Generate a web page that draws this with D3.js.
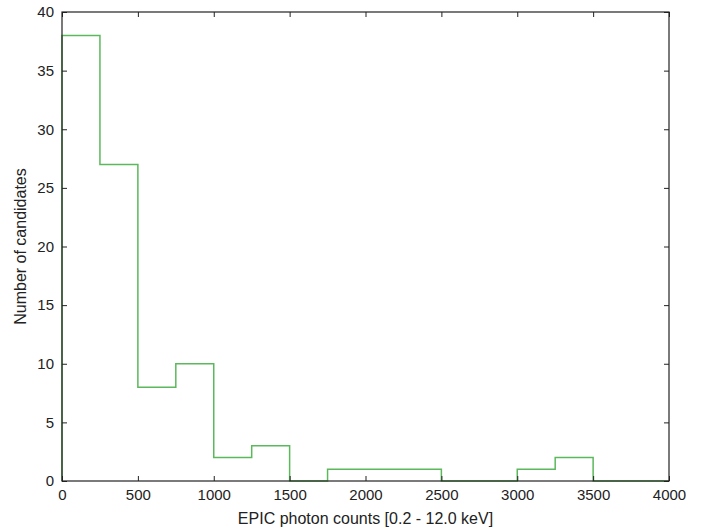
<!DOCTYPE html>
<html lang="en">
  <head>
    <meta charset="utf-8">
    <title></title>
    <style>
      body { margin: 0; background: #fff; }
      .chart text { font-family: "Liberation Sans", Arial, sans-serif; fill: #222; }
    </style>
  </head>
  <body>
    <svg class="chart"></svg>

    <script src="https://cdn.jsdelivr.net/npm/d3@7"></script>
    <script type="text/javascript">
      // histogram bins (250 counts wide) and heights
      var binEdges = [0, 250, 500, 750, 1000, 1250, 1500, 1750, 2000, 2250, 2500, 2750, 3000, 3250, 3500, 3750, 4000];
      var counts = [38, 27, 8, 10, 2, 3, 0, 1, 1, 1, 0, 0, 1, 2, 0, 0];
      var xTicks = [0, 500, 1000, 1500, 2000, 2500, 3000, 3500, 4000];
      var yTicks = [0, 5, 10, 15, 20, 25, 30, 35, 40];

      var margin = {top: 12, right: 39, bottom: 48, left: 62},
          width = 708 - margin.left - margin.right,
          height = 529 - margin.top - margin.bottom;

      var x = d3.scaleLinear().domain([0, 4000]).range([0, width]);
      var y = d3.scaleLinear().domain([0, 40]).range([height, 0]);

      var svg = d3.select(".chart")
          .attr("width", 708)
          .attr("height", 529);

      var chart = svg.append("g")
          .attr("transform", "translate(" + margin.left + "," + margin.top + ")");

      // step outline of the histogram
      var pts = [[binEdges[0], 0]];
      counts.forEach(function(c, i) {
        pts.push([binEdges[i], c]);
        pts.push([binEdges[i + 1], c]);
      });
      pts.push([binEdges[binEdges.length - 1], 0]);

      var line = d3.line()
          .x(function(d) { return x(d[0]); })
          .y(function(d) { return y(d[1]); });

      chart.append("path")
          .datum(pts)
          .attr("fill", "none")
          .attr("stroke", "#5cb85c")
          .attr("stroke-width", 1.5)
          .attr("d", line);

      // axes, ticks pointing inward on all sides
      var tickLen = 5;
      var fmt = d3.format("d");
      var xAxis = d3.axisBottom(x).tickValues(xTicks).tickFormat(fmt).tickSizeInner(-tickLen).tickSizeOuter(0).tickPadding(8);
      var yAxis = d3.axisLeft(y).tickValues(yTicks).tickFormat(fmt).tickSizeInner(-tickLen).tickSizeOuter(0).tickPadding(8);
      var xTop = d3.axisTop(x).tickValues(xTicks).tickSizeInner(-tickLen).tickSizeOuter(0).tickFormat("");
      var yRight = d3.axisRight(y).tickValues(yTicks).tickSizeInner(-tickLen).tickSizeOuter(0).tickFormat("");

      chart.append("g")
          .attr("class", "x axis")
          .attr("transform", "translate(0," + height + ")")
          .call(xAxis);
      chart.append("g").attr("class", "y axis").call(yAxis);
      chart.append("g").call(xTop);
      chart.append("g").attr("transform", "translate(" + width + ",0)").call(yRight);

      chart.selectAll(".domain").remove();
      chart.selectAll(".tick line").attr("stroke", "#222");
      chart.selectAll(".tick text").style("font-size", "15px").attr("fill", "#222");

      chart.append("rect")
          .attr("width", width)
          .attr("height", height)
          .attr("fill", "none")
          .attr("stroke", "#222")
          .attr("stroke-width", 1.2);

      chart.append("text")
          .attr("x", width / 2)
          .attr("y", height + 43)
          .attr("text-anchor", "middle")
          .style("font-size", "16px")
          .text("EPIC photon counts [0.2 - 12.0 keV]");

      chart.append("text")
          .attr("transform", "rotate(-90)")
          .attr("x", -height / 2)
          .attr("y", -36)
          .attr("text-anchor", "middle")
          .style("font-size", "16px")
          .text("Number of candidates");
    </script>
  </body>
</html>
